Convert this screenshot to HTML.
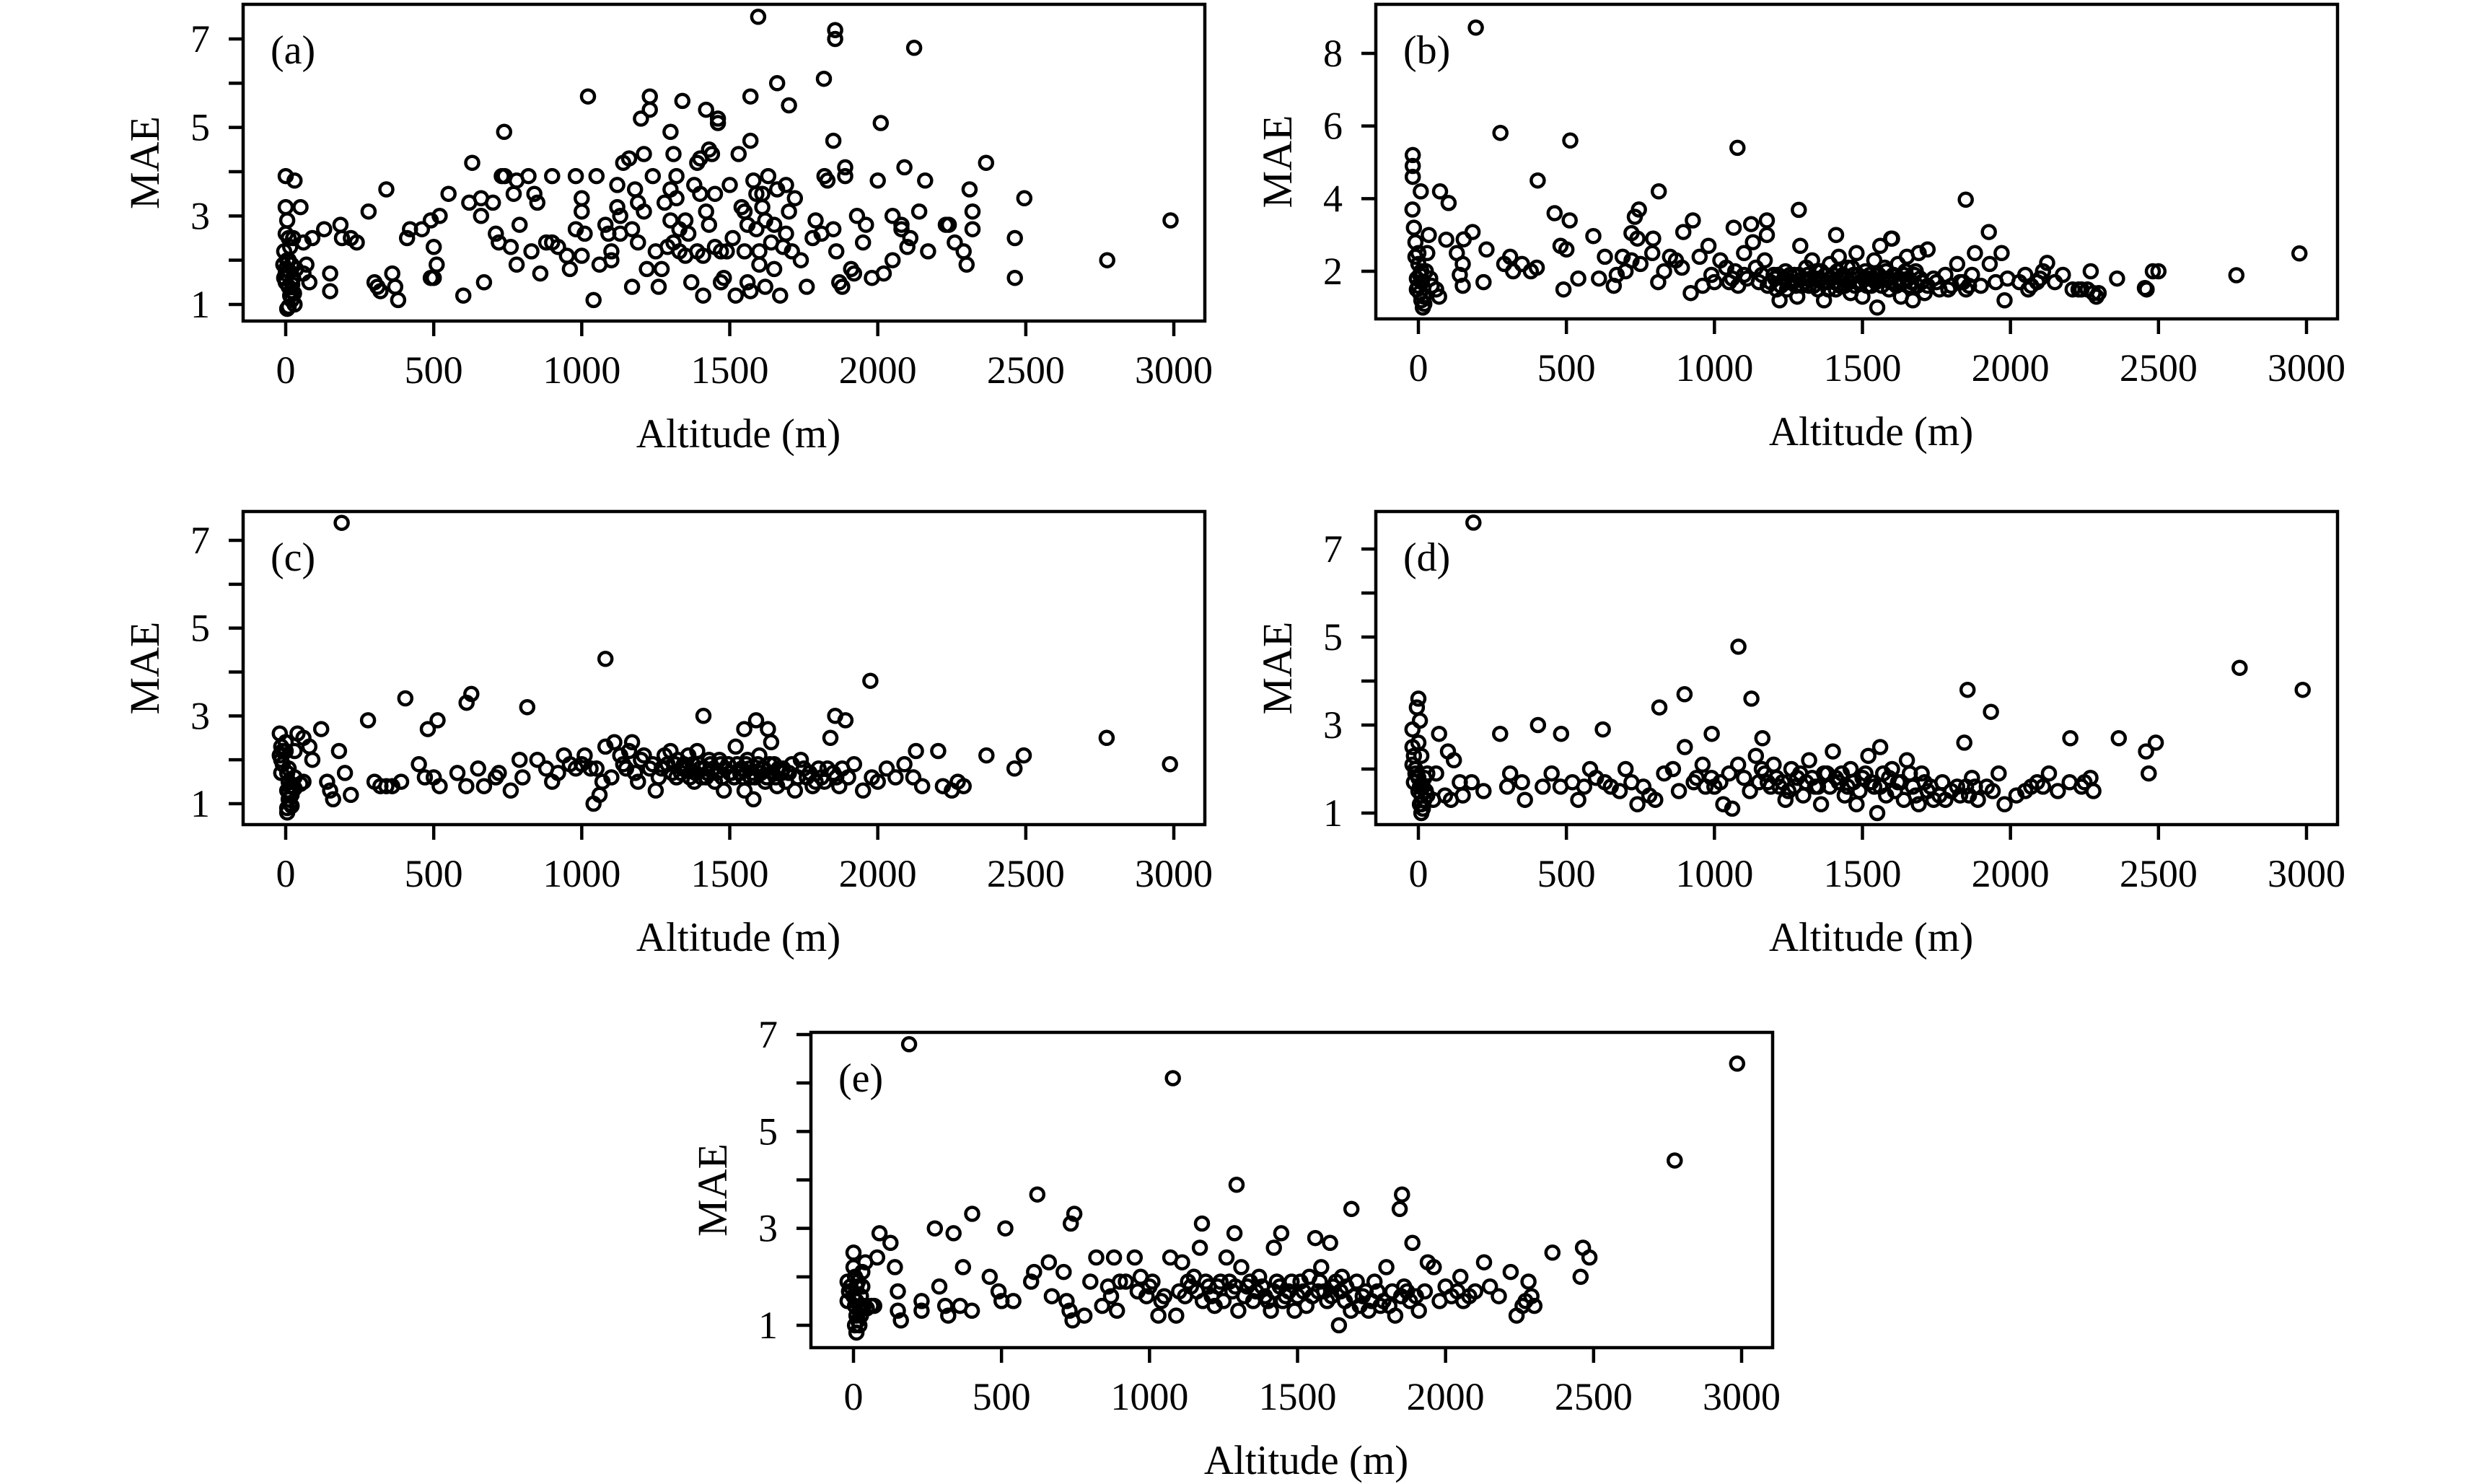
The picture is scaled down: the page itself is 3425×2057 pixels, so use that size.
<!DOCTYPE html>
<html><head><meta charset="utf-8"><style>
html,body{margin:0;padding:0;background:#fff;}
svg{display:block;}
text{font-family:"Liberation Serif",serif;fill:#000;}
</style></head>
<body>
<svg id="fig" width="3425" height="2057" viewBox="0 0 3425 2057" xmlns="http://www.w3.org/2000/svg"></svg>
<script>
const xTicks=[0,500,1000,1500,2000,2500,3000];
const yTicksOdd=[1,2,3,4,5,6,7];
const yLabelsOdd=[1,3,5,7];
const yTicksB=[2,4,6,8];
const yLabelsB=[2,4,6,8];

const dataA=[[0,3.9],[30,3.8],[0,3.2],[50,3.2],[5,2.9],[0,2.6],[10,2.5],[25,2.5],[-5,2.2],[15,2.3],[60,2.4],[90,2.5],[130,2.7],[185,2.8],[190,2.5],[220,2.5],[240,2.4],[280,3.1],[340,3.6],[300,1.5],[310,1.4],[320,1.3],[360,1.7],[370,1.4],[380,1.1],[150,1.7],[150,1.3],[70,1.9],[80,1.5],[60,1.7],[0,1.8],[0,1.7],[-5,1.6],[0,1.5],[10,2.0],[20,1.9],[10,1.4],[15,1.2],[20,1.1],[30,1.0],[5,0.9],[10,0.95],[25,1.6],[20,1.3],[35,1.8],[5,2.0],[-8,1.9],[12,1.75],[22,1.45],[28,1.25],[420,2.7],[410,2.5],[460,2.7],[490,2.9],[500,2.3],[510,1.9],[490,1.6],[500,1.6],[520,3.0],[550,3.5],[600,1.2],[620,3.3],[630,4.2],[660,3.4],[660,3.0],[670,1.5],[700,3.3],[710,2.6],[720,2.4],[730,3.9],[738,4.9],[740,3.9],[760,2.3],[770,3.5],[780,1.9],[780,3.8],[790,2.8],[820,3.9],[830,2.2],[840,3.5],[850,3.3],[860,1.7],[880,2.4],[900,3.9],[900,2.4],[920,2.3],[950,2.1],[960,1.8],[980,3.9],[980,2.7],[1000,3.4],[1000,3.1],[1010,2.6],[1000,2.1],[1021,5.7],[1040,1.1],[1050,3.9],[1060,1.9],[1080,2.8],[1090,2.6],[1100,2.2],[1100,2.0],[1120,3.7],[1120,3.2],[1130,3.0],[1130,2.6],[1140,4.2],[1160,4.3],[1170,2.7],[1170,1.4],[1180,3.6],[1190,3.3],[1190,2.4],[1200,5.2],[1210,4.4],[1210,3.1],[1220,1.8],[1230,5.4],[1230,5.7],[1240,3.9],[1250,2.2],[1260,1.4],[1270,1.8],[1280,3.3],[1290,2.3],[1300,4.9],[1300,3.6],[1300,2.9],[1310,4.4],[1310,2.4],[1320,3.4],[1320,3.9],[1330,2.2],[1330,2.7],[1340,5.6],[1350,2.9],[1350,2.1],[1360,2.6],[1370,1.5],[1380,3.7],[1390,4.2],[1390,2.2],[1400,4.3],[1400,3.5],[1410,2.1],[1410,1.2],[1420,3.1],[1420,5.4],[1430,2.8],[1430,4.5],[1440,4.4],[1450,2.3],[1450,3.5],[1460,5.2],[1460,5.1],[1470,2.2],[1470,1.5],[1480,1.6],[1490,2.2],[1500,3.7],[1510,2.5],[1520,1.2],[1530,4.4],[1540,3.2],[1550,3.1],[1550,2.2],[1560,2.8],[1560,1.5],[1570,1.3],[1570,5.7],[1570,4.7],[1580,3.8],[1590,3.5],[1590,2.7],[1600,1.9],[1600,2.2],[1610,3.2],[1610,3.5],[1620,2.9],[1620,1.4],[1630,3.9],[1640,2.4],[1650,2.8],[1650,1.8],[1660,6.0],[1660,3.6],[1670,1.2],[1680,2.3],[1690,3.7],[1690,2.6],[1700,5.5],[1700,3.1],[1710,2.2],[1720,3.4],[1740,2.0],[1760,1.4],[1780,2.5],[1790,2.9],[1810,2.6],[1820,3.9],[1830,3.8],[1850,2.7],[1860,2.2],[1870,1.5],[1880,1.4],[1818,6.1],[1850,4.7],[1856,7.2],[1856,7.0],[1890,4.1],[1890,3.9],[1910,1.8],[1920,1.7],[1930,3.0],[1950,2.4],[1960,2.8],[1980,1.6],[2000,3.8],[2010,5.1],[2020,1.7],[2050,2.0],[2050,3.0],[2080,2.7],[2080,2.8],[2090,4.1],[2100,2.3],[2110,2.5],[2140,3.1],[2123,6.8],[2160,3.8],[2170,2.2],[2230,2.8],[2240,2.8],[2260,2.4],[2290,2.2],[2300,1.9],[2310,3.6],[2320,3.1],[2320,2.7],[1596,7.5],[2366,4.2],[2463,2.5],[2463,1.6],[2495,3.4],[2775,2.0],[2989,2.9]];

const dataB=[[194,8.71],[277,5.81],[513,5.6],[1078,5.4],[403,4.5],[812,4.2],[1849,3.97],[-19,5.2],[-19,4.9],[-19,4.6],[-20,3.7],[8,4.2],[73,4.2],[102,3.88],[460,3.6],[511,3.4],[745,3.7],[731,3.5],[1285,3.69],[895,3.08],[927,3.4],[1065,3.2],[1124,3.3],[1177,3.4],[1177,3.0],[1927,3.08],[1411,3.0],[1597,2.9],[591,2.97],[183,3.08],[94,2.87],[153,2.88],[35,3.0],[720,3.05],[793,2.9],[2976,2.49],[2763,1.89],[2481,2.0],[2454,1.54],[2360,1.8],[2271,2.0],[2298,1.4],[2177,1.9],[2124,2.23],[-15,3.2],[-10,2.8],[0,2.5],[0,2.2],[10,2.0],[-5,1.8],[0,1.6],[5,1.4],[10,1.2],[15,1.0],[20,1.1],[30,2.5],[40,1.8],[60,1.5],[70,1.3],[130,2.5],[140,1.9],[150,1.6],[150,2.2],[220,1.7],[230,2.6],[290,2.2],[310,2.4],[320,2.0],[350,2.2],[380,2.0],[400,2.1],[480,2.7],[490,1.5],[500,2.6],[540,1.8],[610,1.8],[630,2.4],[660,1.6],[670,1.9],[690,2.4],[700,2.0],[720,2.3],[740,2.9],[750,2.2],[790,2.5],[810,1.7],[830,2.0],[850,2.4],[870,2.3],[890,2.1],[920,1.4],[950,2.4],[960,1.6],[980,2.7],[990,1.9],[1000,1.7],[1020,2.3],[1040,2.1],[1050,1.7],[1070,2.0],[1080,1.6],[1100,2.5],[1110,1.8],[1130,2.8],[1140,2.1],[1150,1.7],[1170,2.3],[1180,1.6],[1200,1.9],[1210,1.5],[1220,1.2],[1240,2.0],[1250,1.7],[1270,1.9],[1280,1.3],[1290,2.7],[1300,1.8],[1310,2.1],[1320,1.6],[1330,2.3],[1340,1.8],[1350,1.5],[1360,2.0],[1370,1.2],[1380,1.7],[1390,2.2],[1400,1.9],[1410,1.5],[1420,2.4],[1430,1.8],[1440,1.6],[1450,2.1],[1460,1.4],[1470,1.9],[1480,2.5],[1490,1.7],[1500,1.3],[1510,2.0],[1520,1.8],[1530,1.6],[1540,2.3],[1550,1.0],[1560,2.7],[1570,1.8],[1580,2.0],[1590,1.5],[1600,2.9],[1610,1.7],[1620,2.2],[1630,1.3],[1640,1.9],[1650,2.4],[1660,1.6],[1670,1.2],[1680,2.0],[1690,2.5],[1700,1.7],[1710,1.4],[1720,2.6],[1740,1.8],[1760,1.5],[1780,1.9],[1800,1.6],[1820,2.2],[1830,1.7],[1850,1.5],[1870,1.9],[1880,2.5],[1900,1.6],[1930,2.2],[1950,1.7],[1970,2.5],[1980,1.2],[1990,1.8],[2030,1.7],[2050,1.9],[2060,1.5],[2090,1.7],[2110,2.0],[2150,1.7],[2210,1.5],[2240,1.5],[2260,1.5],[2290,1.3],[2460,1.5],[2500,2.0],
[-10,2.4],[5,1.9],[-5,1.5],[12,1.7],[18,1.3],[25,2.0],[45,1.6],[1205,1.8],[1215,1.9],[1225,1.6],[1235,1.8],[1245,1.5],[1255,1.9],[1265,1.7],[1275,1.6],[1285,1.9],[1295,1.6],[1305,1.7],[1315,1.9],[1325,1.8],[1335,1.6],[1345,2.0],[1355,1.8],[1365,1.7],[1375,1.9],[1385,1.5],[1395,1.8],[1405,1.7],[1415,2.0],[1425,1.6],[1435,1.9],[1445,1.8],[1455,1.7],[1465,2.1],[1475,1.6],[1485,1.9],[1495,1.7],[1505,1.8],[1515,1.6],[1525,1.9],[1535,1.8],[1545,1.7],[1555,1.9],[1565,1.6],[1575,2.1],[1585,1.8],[1595,1.7],[1605,1.9],[1615,1.6],[1625,1.8],[1635,1.7],[1645,2.0],[1655,1.8],[1665,1.7],[1675,1.9],[1685,1.6],[1695,1.8],[1720,1.6],[1750,1.7],[1790,1.5],[1840,1.7],[1860,1.6],[1100,1.9],[1060,1.8],[1160,1.9],[1190,1.7],[2070,1.6],[2100,1.8],[2230,1.5],[2280,1.4]];

const dataC=[[189,7.4],[1080,4.3],[1975,3.8],[404,3.4],[611,3.3],[627,3.5],[816,3.2],[278,2.9],[513,2.9],[480,2.7],[1411,3.0],[1589,2.9],[1856,3.0],[1891,2.9],[1549,2.7],[1629,2.7],[2773,2.5],[2987,1.9],[2493,2.1],[2462,1.8],[2367,2.1],[2204,2.2],[2129,2.2],[-20,2.6],[-15,2.3],[-20,2.1],[-15,2.0],[-10,1.9],[0,2.4],[0,2.2],[5,1.7],[10,1.5],[5,1.3],[10,1.1],[5,0.9],[5,0.8],[15,1.0],[20,1.2],[25,1.4],[30,1.6],[30,2.2],[40,2.6],[60,2.5],[80,2.3],[90,2.0],[120,2.7],[140,1.5],[150,1.3],[160,1.1],[180,2.2],[200,1.7],[220,1.2],[300,1.5],[320,1.4],[340,1.4],[360,1.4],[390,1.5],[450,1.9],[470,1.6],[500,1.6],[520,1.4],[580,1.7],[610,1.4],[650,1.8],[670,1.4],[710,1.6],[720,1.7],[760,1.3],[790,2.0],[800,1.6],[850,2.0],[880,1.8],[900,1.5],[940,2.1],[960,1.9],[980,1.8],[1010,2.1],[1030,1.8],[1040,1.0],[1060,1.2],[1080,2.3],[1100,1.6],[1110,2.4],[1130,2.1],[1150,1.8],[1170,2.4],[1190,1.5],[1200,2.0],[1230,1.8],[1250,1.3],[1270,1.8],[1290,1.9],[1300,2.2],[1320,1.6],[1340,1.8],[1360,2.1],[1380,1.5],[1390,2.2],[1400,1.8],[1420,1.6],[1430,2.0],[1450,1.5],[1470,1.9],[1480,1.3],[1500,1.7],[1520,2.3],[1540,1.8],[1550,1.3],[1560,2.0],[1570,1.6],[1580,1.1],[1600,2.1],[1610,1.8],[1620,1.5],[1640,2.4],[1650,1.9],[1660,1.4],[1680,1.8],[1700,1.7],[1720,1.3],[1740,2.0],[1760,1.6],[1780,1.4],[1800,1.8],[1820,1.5],[1840,2.5],[1850,1.7],[1870,1.4],[1900,1.6],[1920,1.9],[1950,1.3],[1980,1.6],[2000,1.5],[2030,1.8],[2060,1.6],[2090,1.9],[2120,1.6],[2150,1.4],[2220,1.4],[2250,1.3],[2270,1.5],[2290,1.4],
[-15,1.7],[-10,2.2],[10,1.8],[15,1.4],[20,0.95],[10,1.25],[30,1.35],[50,1.45],[60,1.5],[1305,1.7],[1315,1.9],[1325,2.0],[1335,1.7],[1345,1.9],[1355,1.8],[1365,1.6],[1375,1.9],[1385,1.7],[1395,1.9],[1405,1.6],[1415,1.8],[1425,1.7],[1435,1.9],[1445,1.8],[1455,1.7],[1465,2.0],[1475,1.6],[1485,1.8],[1495,1.9],[1505,1.7],[1515,1.6],[1525,1.9],[1535,1.7],[1545,1.6],[1555,1.9],[1565,1.8],[1575,1.7],[1585,1.6],[1595,1.9],[1605,1.7],[1615,1.8],[1625,1.6],[1635,1.9],[1645,1.7],[1655,1.6],[1665,1.8],[1675,1.7],[1690,1.5],[1710,1.9],[1730,1.6],[1750,1.8],[1770,1.7],[1790,1.5],[1810,1.6],[1830,1.8],[1860,1.6],[1880,1.8],[1140,1.9],[1160,2.2],[1180,1.7],[1210,2.1],[1240,1.9],[1260,1.6],[1280,2.1],[920,1.7],[1000,1.9],[1050,1.8],[1070,1.5]];

const dataD=[[186,7.6],[1081,4.78],[2774,4.3],[2987,3.8],[1855,3.8],[1125,3.6],[899,3.7],[814,3.4],[1934,3.3],[0,3.6],[-5,3.4],[5,3.1],[-20,2.9],[404,3.0],[623,2.9],[276,2.8],[482,2.8],[991,2.8],[1162,2.7],[2202,2.7],[2366,2.7],[2491,2.6],[2458,2.4],[2467,1.9],[1844,2.6],[-20,2.5],[-15,2.3],[-20,2.1],[0,2.6],[10,2.3],[-10,1.9],[0,1.8],[5,1.6],[10,1.4],[5,1.2],[10,1.0],[15,1.1],[20,1.3],[25,1.5],[30,1.9],[70,2.8],[100,2.4],[120,2.2],[90,1.4],[110,1.3],[140,1.7],[150,1.4],[180,1.7],[220,1.5],[300,1.6],[310,1.9],[350,1.7],[360,1.3],[420,1.6],[450,1.9],[480,1.6],[520,1.7],[560,1.6],[580,2.0],[630,1.7],[650,1.6],[700,2.0],[720,1.7],[740,1.2],[780,1.4],[800,1.3],[830,1.9],[860,2.0],[880,1.5],[900,2.5],[930,1.7],[960,2.1],[990,1.8],[1000,1.6],[1030,1.2],[1060,1.1],[1080,2.1],[1100,1.8],[1120,1.5],[1140,2.3],[1160,2.0],[1180,1.7],[1200,2.1],[1220,1.6],[1240,1.3],[1260,2.0],[1280,1.8],[1300,1.4],[1320,2.2],[1340,1.6],[1360,1.2],[1380,1.9],[1400,2.4],[1420,1.7],[1440,1.4],[1460,2.0],[1480,1.2],[1500,1.8],[1520,2.3],[1540,1.6],[1550,1.0],[1560,2.5],[1570,1.9],[1580,1.4],[1600,2.0],[1620,1.7],[1640,1.3],[1650,2.2],[1670,1.6],[1690,1.2],[1700,1.9],[1720,1.5],[1740,1.3],[1770,1.7],[1800,1.5],[1830,1.4],[1850,1.6],[1870,1.8],[1890,1.3],[1920,1.6],[1960,1.9],[1980,1.2],[2050,1.5],[2070,1.6],[2090,1.7],[2130,1.9],[2160,1.5],[2200,1.7],[2240,1.6],[2270,1.8],[2280,1.5],
[-15,1.7],[-10,2.0],[0,1.5],[10,1.2],[15,1.6],[20,1.8],[30,1.4],[50,1.3],[60,1.9],[1150,1.7],[1170,1.9],[1190,1.6],[1210,1.8],[1230,1.7],[1250,1.5],[1270,1.6],[1290,1.9],[1310,1.7],[1330,1.8],[1350,1.6],[1370,1.9],[1390,1.6],[1410,1.8],[1430,1.9],[1450,1.6],[1470,1.7],[1490,1.5],[1510,1.9],[1530,1.7],[1560,1.6],[1590,1.8],[1610,1.5],[1630,1.7],[1660,1.9],[1680,1.4],[1710,1.7],[1730,1.6],[1760,1.4],[1780,1.3],[1820,1.6],[1860,1.4],[1880,1.6],[1940,1.5],[2020,1.4],[2110,1.6],[2250,1.7],[940,1.8],[970,1.6],[1020,1.7],[1050,1.9],[680,1.5],[760,1.6],[600,1.8],[540,1.3]];

const dataE=[[188,6.8],[1079,6.1],[2985,6.4],[2774,4.4],[1294,3.9],[621,3.7],[1853,3.7],[1845,3.4],[1682,3.4],[401,3.3],[746,3.3],[734,3.1],[1177,3.1],[275,3.0],[513,3.0],[338,2.9],[88,2.9],[1287,2.9],[1445,2.9],[125,2.7],[1888,2.7],[2361,2.5],[2464,2.6],[2486,2.4],[2456,2.0],[0,2.5],[-20,1.9],[-15,1.7],[-20,1.5],[0,2.2],[5,2.0],[10,1.8],[5,1.4],[10,1.2],[5,1.0],[10,0.85],[15,1.1],[20,1.3],[25,1.6],[30,2.1],[40,2.3],[60,1.4],[80,2.4],[140,2.2],[150,1.7],[150,1.3],[160,1.1],[230,1.5],[230,1.3],[290,1.8],[310,1.4],[320,1.2],[360,1.4],[370,2.2],[400,1.3],[460,2.0],[490,1.7],[500,1.5],[540,1.5],[600,1.9],[610,2.1],[660,2.3],[670,1.6],[710,2.1],[720,1.5],[730,1.3],[740,1.1],[780,1.2],[800,1.9],[820,2.4],[840,1.4],[860,1.8],[880,2.4],[890,1.3],[920,1.9],[950,2.4],[970,2.0],[990,1.6],[1010,1.9],[1030,1.2],[1050,1.6],[1070,2.4],[1090,1.2],[1100,1.7],[1110,2.3],[1130,1.9],[1150,2.0],[1170,2.6],[1180,1.5],[1200,1.8],[1220,1.4],[1240,1.9],[1260,2.4],[1280,1.7],[1300,1.3],[1310,2.2],[1330,1.8],[1350,1.5],[1370,2.0],[1390,1.6],[1410,1.3],[1420,2.6],[1430,1.9],[1450,1.5],[1470,1.7],[1490,1.3],[1510,1.9],[1530,1.4],[1540,2.0],[1560,2.8],[1570,1.7],[1580,2.2],[1600,1.5],[1610,2.7],[1620,1.8],[1640,1.0],[1650,2.0],[1660,1.5],[1680,1.3],[1700,1.9],[1720,1.6],[1740,1.3],[1760,1.9],[1780,1.4],[1800,2.2],[1820,1.7],[1830,1.2],[1860,1.8],[1880,1.5],[1910,1.3],[1940,2.3],[1960,2.2],[1980,1.5],[2000,1.8],[2040,1.7],[2050,2.0],[2060,1.5],[2100,1.7],[2130,2.3],[2150,1.8],[2180,1.6],[2220,2.1],[2240,1.2],[2260,1.4],[2280,1.9],[2290,1.6],[2300,1.4],
[-10,1.8],[0,1.6],[10,1.5],[15,1.9],[20,1.0],[25,1.2],[30,1.8],[35,1.4],[45,1.35],[70,1.4],[1290,1.8],[1320,1.6],[1340,1.9],[1360,1.7],[1380,1.8],[1400,1.5],[1420,1.7],[1440,1.8],[1460,1.6],[1480,1.9],[1500,1.6],[1520,1.7],[1550,1.6],[1575,1.9],[1590,1.7],[1615,1.6],[1630,1.9],[1645,1.7],[1665,1.8],[1690,1.6],[1710,1.4],[1730,1.7],[1750,1.5],[1770,1.7],[1790,1.5],[1810,1.4],[1850,1.6],[1870,1.7],[1900,1.6],[1930,1.7],[1190,1.9],[1210,1.6],[1230,1.8],[1250,1.5],[1270,1.9],[1120,1.6],[1140,1.8],[1160,1.7],[960,1.7],[1000,1.8],[1040,1.5],[870,1.6],[900,1.9],[2020,1.6],[2080,1.6],[2270,1.5]];

const NS='http://www.w3.org/2000/svg';
const svg=document.getElementById('fig');
function mk(tag,attrs,parent){const e=document.createElementNS(NS,tag);for(const k in attrs)e.setAttribute(k,attrs[k]);(parent||svg).appendChild(e);return e;}

function panel(id,letter,box,yRef,yTicks,yLabels,data){
  const g=mk('g',{});
  
  
  const L=box[0],T=box[1],R=box[2],B=box[3];
  const xs=v=>L+59+(v/3000)*1231;
  const ys=v=>yRef[1]+(v-yRef[0])*(yRef[3]-yRef[1])/(yRef[2]-yRef[0]);
  const pg=mk('g',{},g);
  
  
  data.forEach(d=>{
    const c=mk('circle',{cx:xs(d[0]).toFixed(1),cy:ys(d[1]).toFixed(1),r:9,fill:'none',stroke:'#000','stroke-width':4.5},pg);
    
    
  });
  const fr=mk('rect',{x:L,y:T,width:R-L,height:B-T,fill:'none',stroke:'#000','stroke-width':4.5},g);
  
  
  xTicks.forEach(t=>{
    const x=xs(t);
    const ln=mk('line',{x1:x,y1:B,x2:x,y2:B+21,stroke:'#000','stroke-width':4.5},g);
    
    
    const tx=mk('text',{x:x,y:B+86,'font-size':54,'text-anchor':'middle'},g);
    tx.textContent=t;
    
    
  });
  yTicks.forEach(t=>{
    const y=ys(t);
    const ln=mk('line',{x1:L-20,y1:y,x2:L,y2:y,stroke:'#000','stroke-width':4.5},g);
    
    
  });
  yLabels.forEach(t=>{
    const tx=mk('text',{x:L-46,y:ys(t)+18,'font-size':54,'text-anchor':'end'},g);
    tx.textContent=t;
    
    
  });
  const xt=mk('text',{x:(L+R)/2+20,y:B+175,'font-size':57,'text-anchor':'middle'},g);
  xt.textContent='Altitude (m)';
  
  
  const cy=(T+B)/2;
  const yt=mk('text',{x:L-117,y:cy,'font-size':58,'text-anchor':'middle',transform:'rotate(-90 '+(L-117)+' '+cy+')'},g);
  yt.textContent='MAE';
  
  
  const lb=mk('text',{x:L+38,y:T+82,'font-size':56},g);
  lb.textContent='('+letter+')';
  
  
}
panel('a','a',[337,6,1670,445],[7,54,1,422],yTicksOdd,yLabelsOdd,dataA);
panel('b','b',[1907,6,3240,442],[8,74,2,376],yTicksB,yLabelsB,dataB);
panel('c','c',[337,709,1670,1143],[7,749,1,1114],yTicksOdd,yLabelsOdd,dataC);
panel('d','d',[1907,709,3240,1143],[7,761,1,1127],yTicksOdd,yLabelsOdd,dataD);
panel('e','e',[1124,1431,2457,1868],[7,1434,1,1837],yTicksOdd,yLabelsOdd,dataE);
</script>
</body></html>
